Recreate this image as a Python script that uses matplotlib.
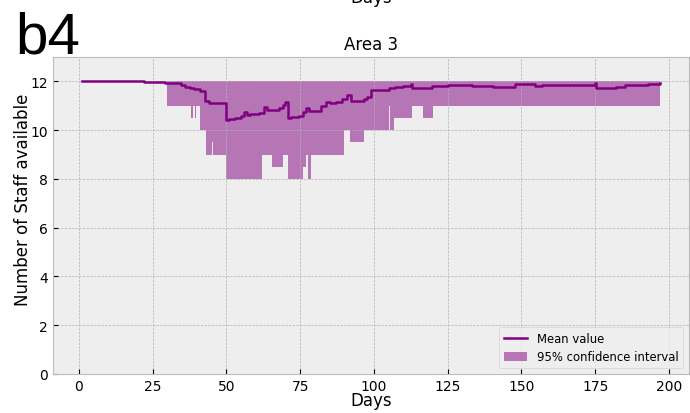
import matplotlib
matplotlib.use("Agg")
import matplotlib.pyplot as plt
import numpy as np

plt.style.use("bmh")

# Mean value (step changes): day, value
mean_days = [1, 22, 26, 29, 31, 34.5, 36, 37.5, 39, 41, 42.6, 44, 49.9, 51, 53, 55, 56, 57, 58, 61,
             62.8, 63.9, 65, 67.9, 69, 70, 70.7, 72, 74.7, 76, 77, 78, 82, 83.7, 85, 87, 89.3, 91,
             92.1, 96.6, 97.7, 98.9, 102.8, 105, 107, 110, 112.4, 113, 119.7, 125, 132, 133.4,
             140.5, 147.8, 154.6, 157, 165, 175, 175.4, 182, 185, 190, 193, 197]
mean_vals = [12.0, 11.99, 11.98, 11.95, 11.93, 11.85, 11.78, 11.72, 11.67, 11.6, 11.18, 11.12, 10.42,
             10.45, 10.5, 10.57, 10.74, 10.63, 10.68, 10.7, 10.94, 10.81, 10.84, 10.9, 11.04, 11.15,
             10.49, 10.52, 10.56, 10.76, 10.92, 10.8, 10.98, 11.15, 11.1, 11.14, 11.26, 11.44,
             11.19, 11.26, 11.35, 11.63, 11.66, 11.73, 11.76, 11.82, 11.88, 11.74, 11.83, 11.86,
             11.87, 11.83, 11.78, 11.91, 11.81, 11.84, 11.87, 11.92, 11.74, 11.79, 11.85, 11.87,
             11.9, 11.93]

# 95% confidence interval lower bound (step changes): day, value
ci_low_days = [1, 30, 38, 38.6, 39.2, 39.8, 40.9, 42.9, 45, 45.4, 50, 61.9, 65.6, 69, 70.7, 76, 77,
               77.5, 78.5, 90, 92, 96.6, 105, 105.6, 106.8, 113, 116.7, 120, 197]
ci_low_vals = [12, 11, 10.5, 11, 10.5, 11, 10, 9, 9.5, 9, 8, 9, 8.5, 9, 8, 8.5, 9, 8, 9, 10, 9.5,
               10, 11, 10, 10.5, 11, 10.5, 11, 11]
ci_upper = 12.0

xticks = [0, 25, 50, 75, 100, 125, 150, 175, 200]
yticks = [0, 2, 4, 6, 8, 10, 12]

fig = plt.figure(figsize=(6.9, 4.14), dpi=100)
fig.patch.set_facecolor("white")
ax = fig.add_axes([53/690, 1-375/414, (689-53)/690, (375-58)/414])

ax.step(mean_days, mean_vals, where="post", color="purple", lw=1.8, label="Mean value")
ax.fill_between(ci_low_days, ci_low_vals, ci_upper, step="post", color="purple", alpha=0.5,
                linewidth=0, label="95% confidence interval")

ax.set_xlim(-8.8, 206.8)
ax.set_ylim(0, 13)
ax.set_xticks(xticks)
ax.set_yticks(yticks)
ax.set_xlabel("Days", fontsize=12, labelpad=-1)
ax.set_ylabel("Number of Staff available", fontsize=12, labelpad=-1)
ax.yaxis.label.set_y((375-200)/317)
ax.set_title("Area 3", fontsize=12)
ax.legend(loc="lower right", fontsize=8.4)

fig.text(371/690, 1-3/414, "Days", ha="center", va="baseline", fontsize=12)
fig.text(15/690, 1-54/414, "b4", ha="left", va="baseline", fontsize=42, family="Liberation Sans")

fig.savefig("out.png", dpi=100, facecolor="white")
